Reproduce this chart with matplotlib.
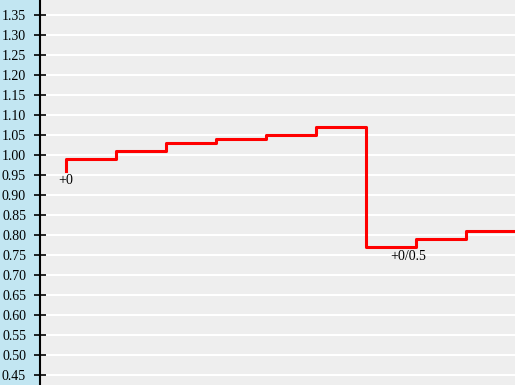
import matplotlib.pyplot as plt
import numpy as np

# step data (drawn as steps-pre)
steps = [0, 1, 2, 3, 4, 5, 6, 7, 8, 9]
values = [0.96, 0.99, 1.01, 1.03, 1.04, 1.05, 1.07, 0.77, 0.79, 0.81]
yticks = [0.45, 0.50, 0.55, 0.60, 0.65, 0.70, 0.75, 0.80, 0.85, 0.90, 0.95,
          1.00, 1.05, 1.10, 1.15, 1.20, 1.25, 1.30, 1.35]
annot_text = ["+0", "+0/0.5"]
annot_x = [0, 6.84]
annot_y = [0.96, 0.77]

plt.rcParams['font.family'] = ['Liberation Serif', 'DejaVu Serif']

fig = plt.figure(figsize=(5.15, 3.85), dpi=100)
fig.patch.set_facecolor('#c2e6f2')
ax = fig.add_axes([40 / 515, 0, 475 / 515, 1])
ax.set_facecolor('#eeeeee')

ax.plot(steps, values, drawstyle='steps-pre', color='red', lw=2.2, zorder=3)

for t, x, y in zip(annot_text, annot_x, annot_y):
    ax.annotate(t, (x, y), xytext=(0, -2), textcoords='offset points',
                ha='center', va='top', fontsize=10)

ax.set_xlim(-0.52, 8.98)
ax.set_ylim(0.425, 1.3875)
ax.set_yticks(yticks)
ax.set_yticklabels([f"{v:.2f}" for v in yticks], fontsize=10)
ax.yaxis.grid(True, color='white', lw=1.5)
ax.set_axisbelow(True)
ax.tick_params(axis='y', direction='inout', length=8, width=1.2, pad=6)
ax.set_xticks([])
for s in ['top', 'right', 'bottom']:
    ax.spines[s].set_visible(False)
ax.spines['left'].set_linewidth(1.5)

fig.savefig('out.png', dpi=100, facecolor=fig.get_facecolor())
